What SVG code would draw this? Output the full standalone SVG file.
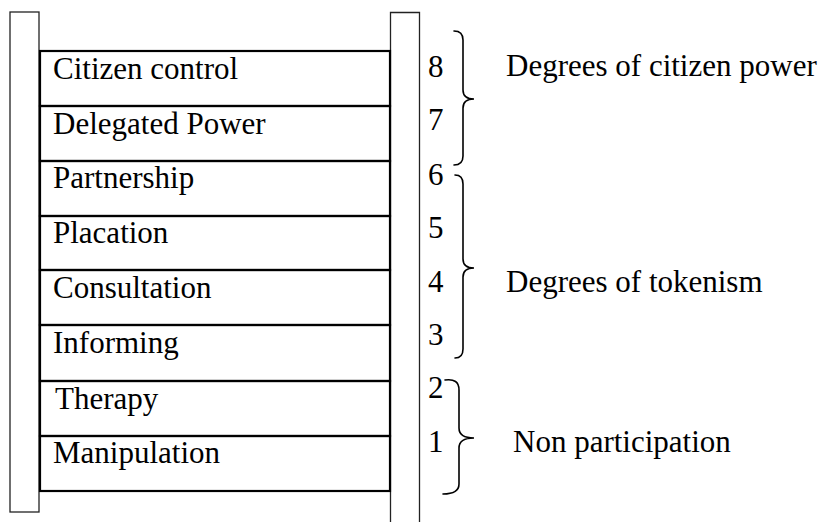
<svg xmlns="http://www.w3.org/2000/svg" width="824" height="522" viewBox="0 0 824 522">
<defs>
<style>
.rail{fill:none;stroke:#222;stroke-width:1.3}
.rung{fill:none;stroke:#000;stroke-width:2.2}
.br{fill:none;stroke:#000;stroke-width:1.6;stroke-linecap:round}
</style>
</defs>
<rect width="824" height="522" fill="#fff"/>
<g id="rails">
<rect class="rail" x="10" y="12" width="29" height="500"/>
<path class="rail" d="M390.5,530 L390.5,12.5 L419.5,12.5 L419.5,530"/>
</g>
<g id="rung-8"><rect class="rung" x="40" y="51" width="350" height="55"/><text font-family="Liberation Serif" font-size="31" x="53" y="79">Citizen control</text><text font-family="Liberation Serif" font-size="31" x="428" y="77">8</text></g>
<g id="rung-7"><rect class="rung" x="40" y="106" width="350" height="55"/><text font-family="Liberation Serif" font-size="31" x="53" y="134">Delegated Power</text><text font-family="Liberation Serif" font-size="31" x="428" y="130">7</text></g>
<g id="rung-6"><rect class="rung" x="40" y="161" width="350" height="55"/><text font-family="Liberation Serif" font-size="31" x="53" y="188">Partnership</text><text font-family="Liberation Serif" font-size="31" x="428" y="185">6</text></g>
<g id="rung-5"><rect class="rung" x="40" y="216" width="350" height="54"/><text font-family="Liberation Serif" font-size="31" x="53" y="243">Placation</text><text font-family="Liberation Serif" font-size="31" x="428" y="238">5</text></g>
<g id="rung-4"><rect class="rung" x="40" y="270" width="350" height="55"/><text font-family="Liberation Serif" font-size="31" x="53" y="298">Consultation</text><text font-family="Liberation Serif" font-size="31" x="428" y="292">4</text></g>
<g id="rung-3"><rect class="rung" x="40" y="325" width="350" height="56"/><text font-family="Liberation Serif" font-size="31" x="53" y="353">Informing</text><text font-family="Liberation Serif" font-size="31" x="428" y="345">3</text></g>
<g id="rung-2"><rect class="rung" x="40" y="381" width="350" height="55"/><text font-family="Liberation Serif" font-size="31" x="55" y="409">Therapy</text><text font-family="Liberation Serif" font-size="31" x="428" y="398">2</text></g>
<g id="rung-1"><rect class="rung" x="40" y="436" width="350" height="55"/><text font-family="Liberation Serif" font-size="31" x="53" y="463">Manipulation</text><text font-family="Liberation Serif" font-size="31" x="428" y="452">1</text></g>
<g id="group-citizen-power"><text font-family="Liberation Serif" font-size="31" x="506" y="76">Degrees of citizen power</text></g>
<g id="group-tokenism"><text font-family="Liberation Serif" font-size="31" x="506" y="292">Degrees of tokenism</text></g>
<g id="group-non-participation"><text font-family="Liberation Serif" font-size="31" x="513" y="452">Non participation</text></g>
<g id="connectors">
<path class="br" d="M454,31 Q463,31 463,40 L463,90 Q463,99 474,99 Q463,99 463,108 L463,156 Q463,165 454,165"/>
<path class="br" d="M455,175 Q463,175 463,184 L463,259 Q463,268 474,268 Q463,268 463,277 L463,349 Q463,358 455,358"/>
<path class="br" d="M445,380 Q459,378 459,390 L459,428 Q459,438 474,438 Q459,438 459,448 L459,484 Q459,494 443,494"/>
</g>
</svg>
